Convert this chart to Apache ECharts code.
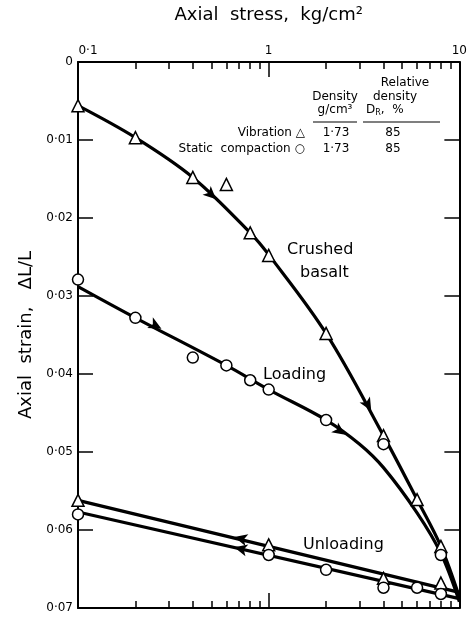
<!DOCTYPE html>
<html><head><meta charset="utf-8">
<script src="https://cdn.jsdelivr.net/npm/echarts@6/dist/echarts.min.js"></script>
<style>html,body{margin:0;padding:0;background:#fff}#c{width:470px;height:617px}</style>
</head><body><div id="c"></div>
<script>
// ---- data ----
const xMajorTicks = [0.1, 1, 10];
const xMinorTicks = [0.2,0.3,0.4,0.5,0.6,0.7,0.8,0.9,2,3,4,5,6,7,8,9];
const xTickLabels = ['0·1', '1', '10'];
const yTicks = [0, 0.01, 0.02, 0.03, 0.04, 0.05, 0.06, 0.07];
const yTickLabels = ['0', '0·01', '0·02', '0·03', '0·04', '0·05', '0·06', '0·07'];

// Crushed basalt, vibration (triangles)
const vibLoadPts = [[0.1,0.0056],[0.2,0.0097],[0.4,0.0148],[0.6,0.0157],[0.8,0.0219],[1,0.0248],[2,0.0348],[4,0.0479],[6,0.0561],[8,0.0621]];
const vibUnloadPts = [[0.1,0.0562],[1,0.0619],[4,0.0662],[8,0.0668]];
const vibLoadCurve = [[0.1,0.0056],[0.2,0.0097],[0.4,0.0148],[0.8,0.0219],[1,0.0247],[2,0.0348],[4,0.0479],[6,0.0561],[8,0.0621],[10,0.0686]];
const vibUnloadLine = [[10,0.0680],[0.1,0.0562]];

// Static compaction (circles)
const statLoadPts = [[0.1,0.0279],[0.2,0.0328],[0.4,0.0379],[0.6,0.0389],[0.8,0.0408],[1,0.0420],[2,0.0459],[4,0.0490],[8,0.0632]];
const statUnloadPts = [[0.1,0.0580],[1,0.0632],[2,0.0651],[4,0.0674],[6,0.0674],[8,0.0682]];
const statLoadCurve = [[0.1,0.0288],[0.2,0.0328],[0.6,0.0389],[1,0.0420],[2,0.0459],[3,0.0490],[4,0.0520],[6,0.0578],[8,0.0630],[10,0.0692]];
const statUnloadLine = [[10,0.0688],[0.1,0.0577]];

// direction arrows on the curves
const arrowPts = [[0.53,0.0176],[3.45,0.0447],[0.274,0.0342],[2.52,0.0478],[0.66,0.0609],[0.66,0.0622]];
const arrowRot = [-133, -150, -118, -125, 76, 76];

const FONT = 'DejaVu Sans';
const chart = echarts.init(document.getElementById('c'));

function xAxisCfg(pos, values, len, showLine, showLabel, name) {
  return {
    type: 'log', logBase: 10, min: 0.1, max: 10, position: pos,
    name: name || '', nameLocation: 'middle', nameGap: 38,
    nameTextStyle: {fontFamily: FONT, fontSize: 18, color: '#000'},
    axisLine: {show: showLine, lineStyle: {color: '#000', width: 2}},
    axisTick: {show: true, inside: true, length: len, customValues: values, lineStyle: {color: '#000', width: 1.5}},
    axisLabel: {show: showLabel, customValues: xMajorTicks, fontFamily: FONT, fontSize: 12, color: '#000', margin: 5,
      formatter: v => {
        const i = xMajorTicks.findIndex(t => Math.abs(t - v) < 1e-9);
        const s = i >= 0 ? xTickLabels[i] : '';
        return i === 0 ? '{p|' + s + '}' : s;
      },
      rich: {p: {fontFamily: FONT, fontSize: 12, color: '#000', padding: [0, 0, 0, 20]}}},
    splitLine: {show: false}, minorTick: {show: false}
  };
}
function yAxisCfg(pos, showLabel, name) {
  return {
    type: 'value', inverse: true, min: 0, max: 0.07, interval: 0.01, position: pos,
    name: name || '', nameLocation: 'middle', nameGap: 42, nameRotate: 90,
    nameTextStyle: {fontFamily: FONT, fontSize: 18, color: '#000'},
    axisLine: {show: true, lineStyle: {color: '#000', width: 2}},
    axisTick: {show: true, inside: true, length: 15, lineStyle: {color: '#000', width: 1.5}},
    axisLabel: {show: showLabel, fontFamily: FONT, fontSize: 12, color: '#000', margin: 5,
      formatter: v => {
        const i = yTicks.findIndex(t => Math.abs(t - v) < 1e-9);
        return i >= 0 ? yTickLabels[i] : '';
      }},
    splitLine: {show: false}
  };
}

const lineStyle = {color: '#000', width: 3.2};
const txt = (x, y, text, size, align) => ({type: 'text', x, y, style: {text, fontFamily: FONT, fontSize: size, fill: '#000', align: align || 'left', verticalAlign: 'middle'}});

chart.setOption({
  animation: false,
  backgroundColor: '#fff',
  grid: {left: 78, right: 8, top: 62, bottom: 9, containLabel: false},
  xAxis: [
    xAxisCfg('top', [1], 15, true, true, 'Axial  stress,  kg/cm²'),
    xAxisCfg('top', xMinorTicks, 7, false, false),
    xAxisCfg('bottom', [1], 15, true, false),
    xAxisCfg('bottom', xMinorTicks, 7, false, false)
  ],
  yAxis: [
    yAxisCfg('left', true, 'Axial  strain,   ΔL/L'),
    yAxisCfg('right', false)
  ],
  series: [
    {type: 'line', data: vibLoadCurve, smooth: 0.35, showSymbol: false, lineStyle, z: 2},
    {type: 'line', data: statLoadCurve, smooth: 0.35, showSymbol: false, lineStyle, z: 2},
    {type: 'line', data: vibUnloadLine, showSymbol: false, lineStyle, z: 2},
    {type: 'line', data: statUnloadLine, showSymbol: false, lineStyle, z: 2},
    {type: 'scatter', data: arrowPts.map((p, i) => ({value: p, symbolRotate: arrowRot[i]})),
      symbol: 'arrow', symbolSize: [9, 13], itemStyle: {color: '#000', opacity: 1}, z: 3},
    {type: 'scatter', data: vibLoadPts.concat(vibUnloadPts), symbol: 'triangle', symbolSize: 12,
      itemStyle: {color: '#fff', borderColor: '#000', borderWidth: 1.5, opacity: 1}, z: 4},
    {type: 'scatter', data: statLoadPts.concat(statUnloadPts), symbol: 'circle', symbolSize: 11,
      itemStyle: {color: '#fff', borderColor: '#000', borderWidth: 1.5, opacity: 1}, z: 4}
  ],
  graphic: [
    txt(287, 250, 'Crushed', 16),
    txt(300, 273, 'basalt', 16),
    txt(263, 375, 'Loading', 16),
    txt(303, 545, 'Unloading', 16),
    txt(405, 83, 'Relative', 12, 'center'),
    txt(335, 97, 'Density', 12, 'center'),
    txt(395, 97, 'density', 12, 'center'),
    txt(335, 110, 'g/cm³', 12, 'center'),
    {type: 'text', x: 366, y: 110, style: {text: '{a|D}{b|R}{a|,  %}', fill: '#000', verticalAlign: 'middle',
      rich: {a: {fontFamily: FONT, fontSize: 12, fill: '#000'}, b: {fontFamily: FONT, fontSize: 8, fill: '#000', padding: [6, 0, 0, 0]}}}},
    {type: 'line', shape: {x1: 313, y1: 122, x2: 357, y2: 122}, style: {stroke: '#000', lineWidth: 1.2}},
    {type: 'line', shape: {x1: 363, y1: 122, x2: 440, y2: 122}, style: {stroke: '#000', lineWidth: 1.2}},
    txt(305, 133, 'Vibration △', 12, 'right'),
    txt(336, 133, '1·73', 12, 'center'),
    txt(393, 133, '85', 12, 'center'),
    txt(305, 149, 'Static  compaction ○', 12, 'right'),
    txt(336, 149, '1·73', 12, 'center'),
    txt(393, 149, '85', 12, 'center')
  ]
});
</script></body></html>
